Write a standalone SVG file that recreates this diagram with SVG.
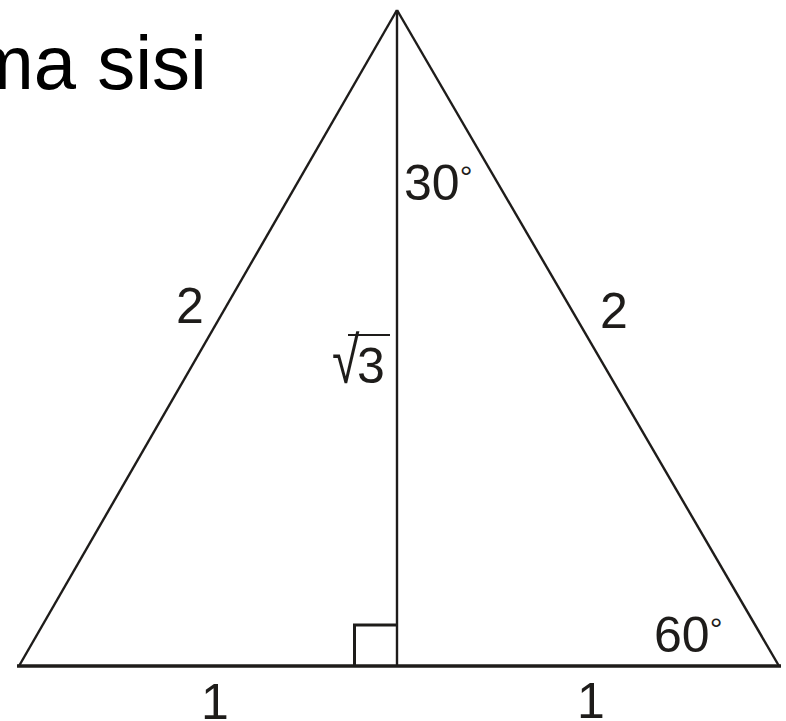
<svg xmlns="http://www.w3.org/2000/svg" width="786" height="721" viewBox="0 0 786 721">
  <style>
    .ln { stroke: #1e1c1a; fill: none; stroke-linecap: butt; stroke-linejoin: miter; }
    .lbl { font-family: "Liberation Sans", Arial, sans-serif; font-size: 50px; fill: #1e1c1a; }
    .deg { font-size: 32px; }
    .title { font-family: "Liberation Sans", Arial, sans-serif; font-size: 76px; fill: #000; }
  </style>
  <rect width="786" height="721" fill="#fff"/>
  <text class="title" x="207" y="89" text-anchor="end">ma sisi</text>
  <g id="connectors">
    <line class="ln" x1="19" y1="666" x2="397" y2="10" stroke-width="2.4"/>
    <line class="ln" x1="397" y1="10" x2="779" y2="666" stroke-width="2.4"/>
    <line class="ln" x1="397" y1="10" x2="397" y2="666" stroke-width="2.4"/>
    <line class="ln" x1="17" y1="666" x2="781" y2="666" stroke-width="3.5"/>
    <polyline class="ln" points="354.5,666 354.5,625 397,625" stroke-width="3"/>
  </g>
  <g id="labels">
    <text class="lbl" x="404" y="200">30<tspan class="deg" dy="-12">°</tspan></text>
    <text class="lbl" transform="translate(332,383) scale(1,1.3)">√</text>
    <text class="lbl" x="357" y="383">3</text>
    <line class="ln" x1="348" y1="335" x2="390" y2="335" stroke-width="2"/>
    <text class="lbl" x="176" y="323">2</text>
    <text class="lbl" x="600" y="328">2</text>
    <text class="lbl" x="654" y="652">60<tspan class="deg" dy="-12">°</tspan></text>
    <text class="lbl" x="201" y="719">1</text>
    <text class="lbl" x="577" y="718">1</text>
  </g>
</svg>
